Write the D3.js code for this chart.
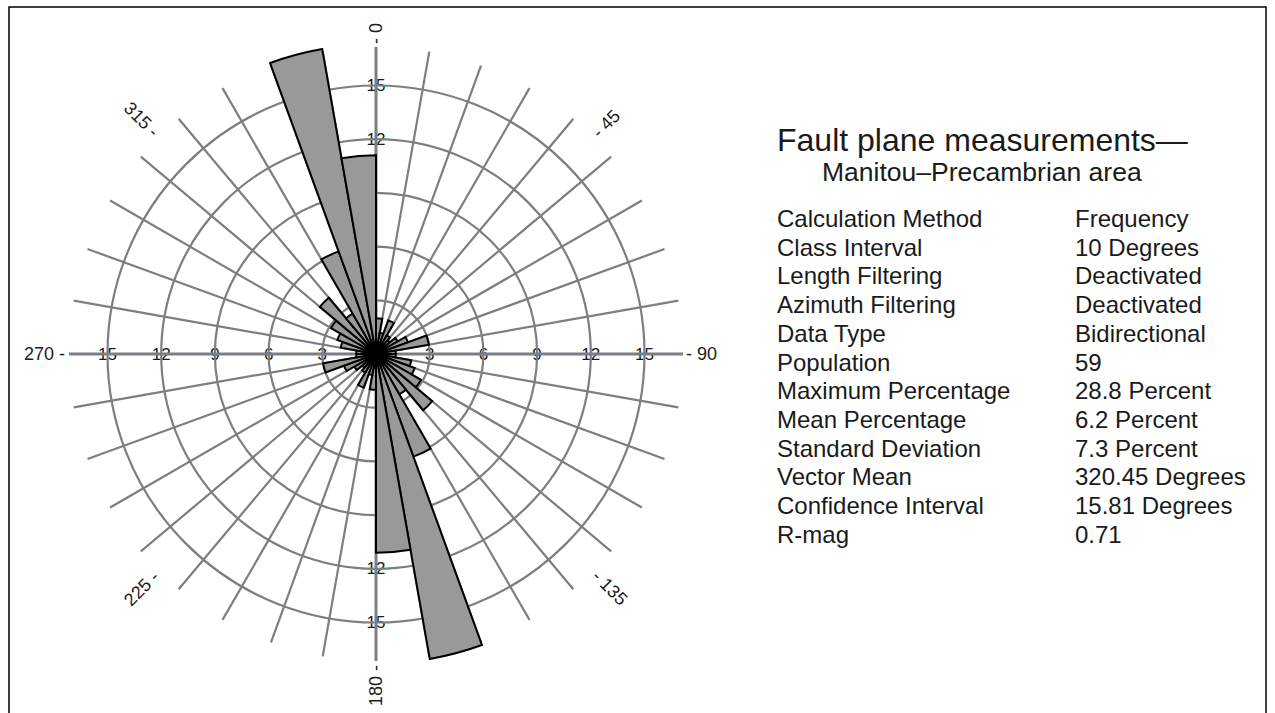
<!DOCTYPE html>
<html>
<head>
    <style>
        body { margin: 0; background: #fff; }
        text { font-family: "Liberation Sans", Arial, Helvetica, sans-serif; fill: #1a1a1a; }
        .grid { fill: none; stroke: #7b7f84; stroke-width: 2.2; }
        .axis { stroke: #7b7f84; stroke-width: 3; }
        .petal { fill: #999999; stroke: #000; stroke-width: 2; stroke-linejoin: miter; }
    </style>
    <script src="https://d3js.org/d3.v7.min.js"></script>
</head>
<body>

<svg width="1275" height="713"></svg>

<script>
    // bidirectional rose: 18 classes of 10 degrees (0-180), mirrored to 180-360
    var binStart = [0, 10, 20, 30, 40, 50, 60, 70, 80, 90, 100, 110, 120, 130, 140, 150, 160, 170];
    var binValue = [2.0, 1.2, 2.0, 1.2, 1.0, 1.4, 1.9, 3.0, 1.1, 1.1, 2.0, 2.3, 2.9, 4.1, 2.6, 6.1, 17.3, 11.1];

    var ringTicks = [3, 6, 9, 12, 15];
    var compassLabels = [0, 45, 90, 135, 180, 225, 270, 315];

    var statNames = ["Calculation Method", "Class Interval", "Length Filtering", "Azimuth Filtering",
        "Data Type", "Population", "Maximum Percentage", "Mean Percentage", "Standard Deviation",
        "Vector Mean", "Confidence Interval", "R-mag"];
    var statValues = ["Frequency", "10 Degrees", "Deactivated", "Deactivated", "Bidirectional", "59",
        "28.8 Percent", "6.2 Percent", "7.3 Percent", "320.45 Degrees", "15.81 Degrees", "0.71"];

    var cx = 376, cy = 354;
    var svg = d3.select("svg");

    // frame
    svg.append("rect")
        .attr("x", 9).attr("y", 7)
        .attr("width", 1257).attr("height", 730)
        .attr("fill", "none").attr("stroke", "#000").attr("stroke-width", 1.5);

    var r = d3.scaleLinear().domain([0, 15]).range([0, 268.5]);
    var spokeLen = 307;
    var rad = function(deg) { return deg * Math.PI / 180; };

    // value of the class that starts at a given bearing (mirrored)
    function valueAt(deg) {
        deg = ((deg % 360) + 360) % 360;
        return binValue[binStart.indexOf(deg % 180)];
    }

    var g = svg.append("g").attr("transform", "translate(" + cx + "," + cy + ")");

    // ring labels on the four main axes, only where no petal hides them
    [0, 90, 180, 270].forEach(function(a) {
        var cover = Math.max(valueAt(a), valueAt(a - 10));
        g.selectAll(null)
            .data(ringTicks.filter(function(d) { return d > cover; }))
            .enter().append("text")
            .attr("x", function(d) { return r(d) * Math.sin(rad(a)); })
            .attr("y", function(d) { return -r(d) * Math.cos(rad(a)); })
            .attr("text-anchor", "middle")
            .attr("dominant-baseline", "central")
            .attr("font-size", 17)
            .text(function(d) { return d; });
    });

    // rings
    g.selectAll(".ring")
        .data(ringTicks)
        .enter().append("circle")
        .attr("class", "grid")
        .attr("r", function(d) { return r(d); });

    // spokes every 10 degrees
    var spokes = d3.range(0, 360, 10);
    g.selectAll(".spoke")
        .data(spokes)
        .enter().append("line")
        .attr("class", function(d) { return d % 90 === 0 ? "axis" : "grid"; })
        .attr("x1", 0).attr("y1", 0)
        .attr("x2", function(d) { return spokeLen * Math.sin(rad(d)); })
        .attr("y2", function(d) { return -spokeLen * Math.cos(rad(d)); });

    // petals
    var petals = [];
    binStart.forEach(function(s, i) {
        petals.push({ start: s, value: binValue[i] });
        petals.push({ start: s + 180, value: binValue[i] });
    });

    var arc = d3.arc()
        .innerRadius(0)
        .outerRadius(function(d) { return r(d.value); })
        .startAngle(function(d) { return rad(d.start); })
        .endAngle(function(d) { return rad(d.start + 10); });

    g.selectAll(".petal")
        .data(petals)
        .enter().append("path")
        .attr("class", "petal")
        .attr("d", arc);

    // compass labels
    g.selectAll(".compass")
        .data(compassLabels)
        .enter().append("text")
        .attr("font-size", 18)
        .attr("dominant-baseline", "central")
        .attr("transform", function(d) {
            return d < 180 ? "rotate(" + (d - 90) + ")" : "rotate(" + (d + 90) + ")";
        })
        .attr("x", function(d) { return d < 180 ? 310 : -311; })
        .attr("y", 0)
        .attr("text-anchor", function(d) { return d < 180 ? "start" : "end"; })
        .text(function(d) { return d < 180 ? "- " + d : d + " -"; });

    // title and statistics
    svg.append("text")
        .attr("x", 777).attr("y", 151)
        .attr("font-size", 32)
        .text("Fault plane measurements\u2014");
    svg.append("text")
        .attr("x", 822).attr("y", 181)
        .attr("font-size", 26.5)
        .text("Manitou\u2013Precambrian area");

    var rowY = d3.scaleLinear().domain([0, 1]).range([227, 255.7]);

    svg.selectAll(".statName")
        .data(statNames)
        .enter().append("text")
        .attr("x", 777)
        .attr("y", function(d, i) { return rowY(i); })
        .attr("font-size", 24)
        .text(function(d) { return d; });

    svg.selectAll(".statValue")
        .data(statValues)
        .enter().append("text")
        .attr("x", 1075)
        .attr("y", function(d, i) { return rowY(i); })
        .attr("font-size", 24)
        .text(function(d) { return d; });
</script>
</body>
</html>
